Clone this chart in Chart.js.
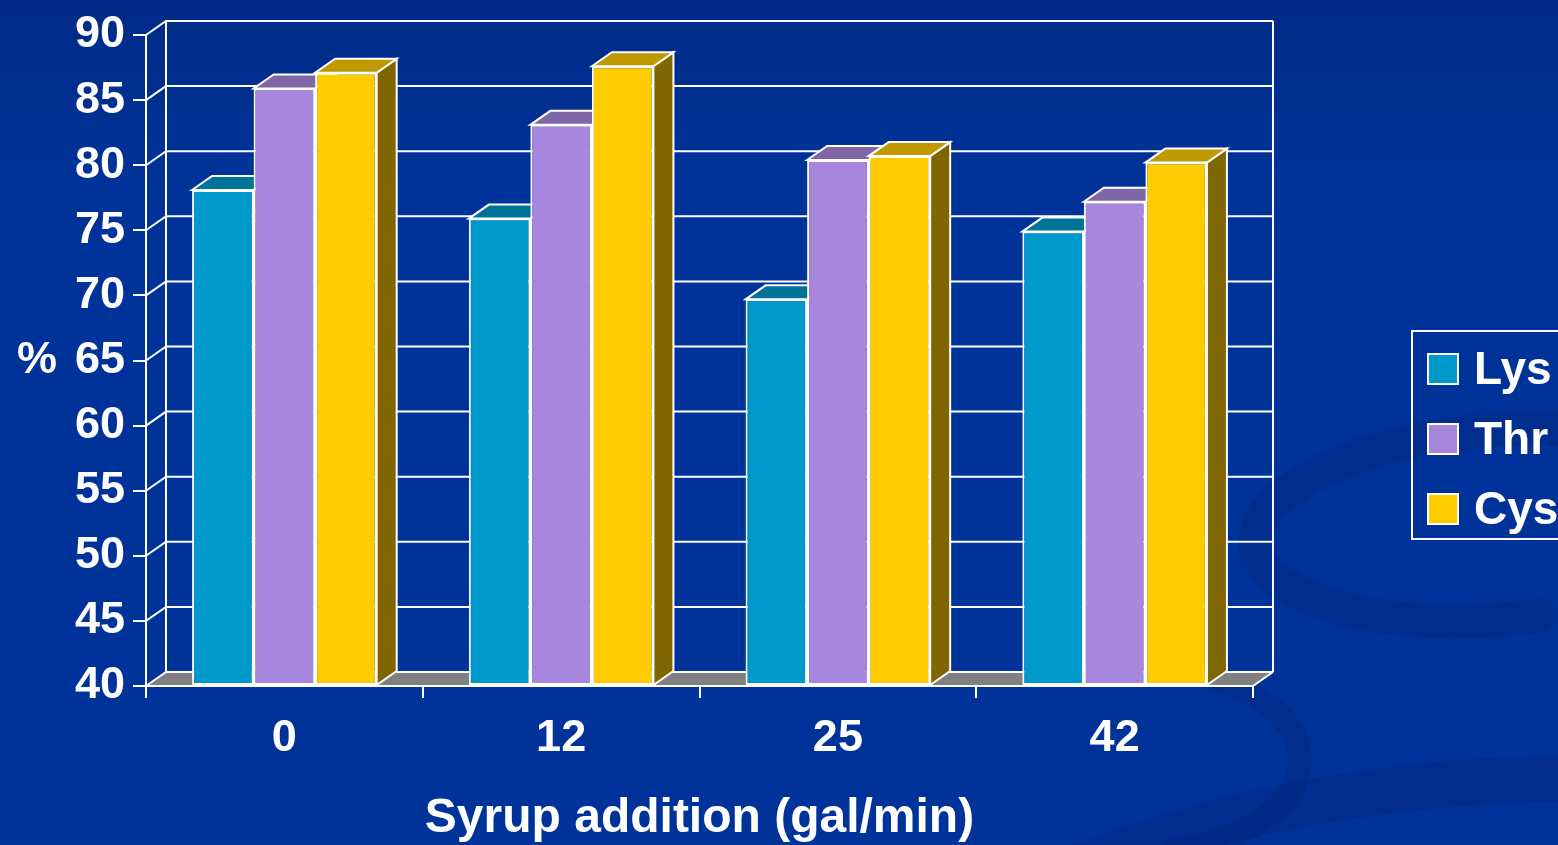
<!DOCTYPE html>
<html>
<head>
<meta charset="utf-8">
<script src="https://cdn.jsdelivr.net/npm/chart.js@4.4.1/dist/chart.umd.min.js"></script>
<style>
  html, body { margin: 0; padding: 0; background: #003399; }
  #wrap { width: 1558px; height: 845px; }
</style>
</head>
<body>
<div id="wrap"><canvas id="c" width="1558" height="845"></canvas></div>
<script>
// Syrup addition rate (gal/min) and digestibility (%) per amino acid
const categories = ['0', '12', '25', '42'];
const lysValues = [78.1, 75.9, 69.7, 74.9];
const thrValues = [85.9, 83.1, 80.4, 77.2];
const cysValues = [87.1, 87.6, 80.7, 80.2];
const seriesNames = ['Lys', 'Thr', 'Cys'];
const yTicks = [40, 45, 50, 55, 60, 65, 70, 75, 80, 85, 90];

const FONT = 'Arial, "Liberation Sans", sans-serif';
const DX = 20, DY = 14; // depth offset of the 3D box

// front / top / side shades per series
const shades = [
  { front: '#0099CC', top: '#007399', side: '#004C66' },
  { front: '#A886DE', top: '#7F66A6', side: '#54446F' },
  { front: '#FFCC00', top: '#C09900', side: '#806600' }
];

function poly(ctx, pts, fill, stroke, lw) {
  ctx.beginPath();
  ctx.moveTo(pts[0][0], pts[0][1]);
  for (let i = 1; i < pts.length; i++) ctx.lineTo(pts[i][0], pts[i][1]);
  ctx.closePath();
  if (fill) { ctx.fillStyle = fill; ctx.fill(); }
  if (stroke) { ctx.strokeStyle = stroke; ctx.lineWidth = lw || 2; ctx.stroke(); }
}

function swirl(ctx, cx, cy, rx, ry, rot, a0, a1, width) {
  ctx.lineWidth = width;
  ctx.beginPath();
  ctx.ellipse(cx, cy, rx, ry, rot, a0, a1);
  ctx.stroke();
}

const backdrop = {
  id: 'backdrop',
  beforeDraw(chart) {
    const ctx = chart.ctx;
    const W = chart.width, H = chart.height;
    ctx.save();
    // slide background
    const g = ctx.createLinearGradient(0, 0, 0, H);
    g.addColorStop(0, '#002A86');
    g.addColorStop(0.22, '#003399');
    g.addColorStop(1, '#003399');
    ctx.fillStyle = g;
    ctx.fillRect(0, 0, W, H);
    // soft swirl in the lower right
    ctx.strokeStyle = 'rgba(0, 30, 110, 0.24)';
    ctx.lineCap = 'round';
    swirl(ctx, 1495, 525, 240, 95, -0.08, Math.PI * 0.45, Math.PI * 1.75, 34);
    swirl(ctx, 1520, 1120, 720, 340, -0.05, Math.PI * 1.08, Math.PI * 1.62, 46);
    swirl(ctx, 1150, 760, 150, 90, 0, -Math.PI * 0.45, Math.PI * 0.45, 24);

    // back wall with gridlines, and the floor
    const x = chart.scales.x, y = chart.scales.y;
    const L = x.left, R = x.right, T = y.top, B = y.bottom;
    ctx.lineCap = 'butt';
    ctx.lineWidth = 2;
    ctx.strokeStyle = '#FFFFFF';
    poly(ctx, [[L, B], [R, B], [R + DX, B - DY], [L + DX, B - DY]], '#808080', null);
    yTicks.forEach(v => {
      const py = y.getPixelForValue(v);
      ctx.beginPath();
      ctx.moveTo(L, py);
      ctx.lineTo(L + DX, py - DY);
      ctx.lineTo(R + DX, py - DY);
      ctx.stroke();
    });
    ctx.beginPath();
    ctx.moveTo(L + DX, T - DY); ctx.lineTo(L + DX, B - DY);
    ctx.moveTo(R + DX, T - DY); ctx.lineTo(R + DX, B - DY);
    ctx.moveTo(R, B); ctx.lineTo(R + DX, B - DY);
    ctx.stroke();
    ctx.restore();
  },
  beforeDatasetsDraw(chart) {
    // top and side faces; the front faces are the library's own bars
    const ctx = chart.ctx;
    const metas = chart.data.datasets.map((d, i) => chart.getDatasetMeta(i));
    ctx.save();
    for (let c = 0; c < categories.length; c++) {
      metas.forEach((meta, s) => {
        const bar = meta.data[c];
        const x1 = bar.x - bar.width / 2, x2 = bar.x + bar.width / 2;
        const yt = bar.y, yb = bar.base;
        poly(ctx, [[x2, yt], [x2 + DX, yt - DY], [x2 + DX, yb - DY], [x2, yb]], shades[s].side, '#FFFFFF', 2);
        poly(ctx, [[x1, yt], [x2, yt], [x2 + DX, yt - DY], [x1 + DX, yt - DY]], shades[s].top, '#FFFFFF', 2);
      });
    }
    ctx.restore();
  },
  afterDraw(chart) {
    const ctx = chart.ctx;
    ctx.save();
    ctx.fillStyle = '#FFFFFF';
    ctx.font = 'bold 45px ' + FONT;
    ctx.textAlign = 'center';
    ctx.textBaseline = 'middle';
    ctx.fillText('%', 37, chart.scales.y.getPixelForValue(65));

    // legend
    ctx.strokeStyle = '#FFFFFF';
    ctx.lineWidth = 2;
    ctx.strokeRect(1412, 331, 160, 208);
    ctx.font = 'bold 46px ' + FONT;
    ctx.textAlign = 'left';
    chart.data.datasets.forEach((ds, i) => {
      const cy = 369 + i * 70;
      ctx.fillStyle = ds.backgroundColor;
      ctx.fillRect(1428, cy - 15, 30, 30);
      ctx.strokeRect(1428, cy - 15, 30, 30);
      ctx.fillStyle = '#FFFFFF';
      ctx.fillText(ds.label, 1474, cy + 2);
    });
    ctx.restore();
  }
};

const seriesValues = [lysValues, thrValues, cysValues];

new Chart(document.getElementById('c'), {
  type: 'bar',
  data: {
    labels: categories,
    datasets: seriesNames.map((name, i) => ({
      label: name,
      data: seriesValues[i],
      base: yTicks[0],
      backgroundColor: shades[i].front,
      borderColor: '#FFFFFF',
      borderWidth: 2,
      borderSkipped: false
    }))
  },
  options: {
    responsive: false,
    animation: false,
    maintainAspectRatio: false,
    layout: { padding: { top: 32, left: 0, right: 305, bottom: 0 } },
    categoryPercentage: 0.667,
    barPercentage: 1.0,
    plugins: {
      legend: { display: false },
      tooltip: { enabled: false }
    },
    scales: {
      x: {
        grid: { display: true, drawOnChartArea: false, drawTicks: true, tickLength: 12, color: '#FFFFFF', lineWidth: 2, offset: true },
        border: { display: true, color: '#FFFFFF', width: 2 },
        ticks: { color: '#FFFFFF', font: { family: FONT, size: 45, weight: 'bold' }, padding: 14 },
        title: {
          display: true,
          text: 'Syrup addition (gal/min)',
          color: '#FFFFFF',
          font: { family: FONT, size: 48, weight: 'bold', lineHeight: 1.1 },
          padding: { top: 0, bottom: 0 }
        },
        afterFit(scale) { scale.height = 159; }
      },
      y: {
        min: 40,
        max: 90,
        afterBuildTicks(scale) { scale.ticks = yTicks.map(v => ({ value: v })); },
        grid: { display: true, drawOnChartArea: false, drawTicks: true, tickLength: 13, color: '#FFFFFF', lineWidth: 2 },
        border: { display: true, color: '#FFFFFF', width: 2 },
        ticks: { color: '#FFFFFF', font: { family: FONT, size: 45, weight: 'bold' }, padding: 8 },
        afterFit(scale) { scale.width = 146; }
      }
    }
  },
  plugins: [backdrop]
});
</script>
</body>
</html>
